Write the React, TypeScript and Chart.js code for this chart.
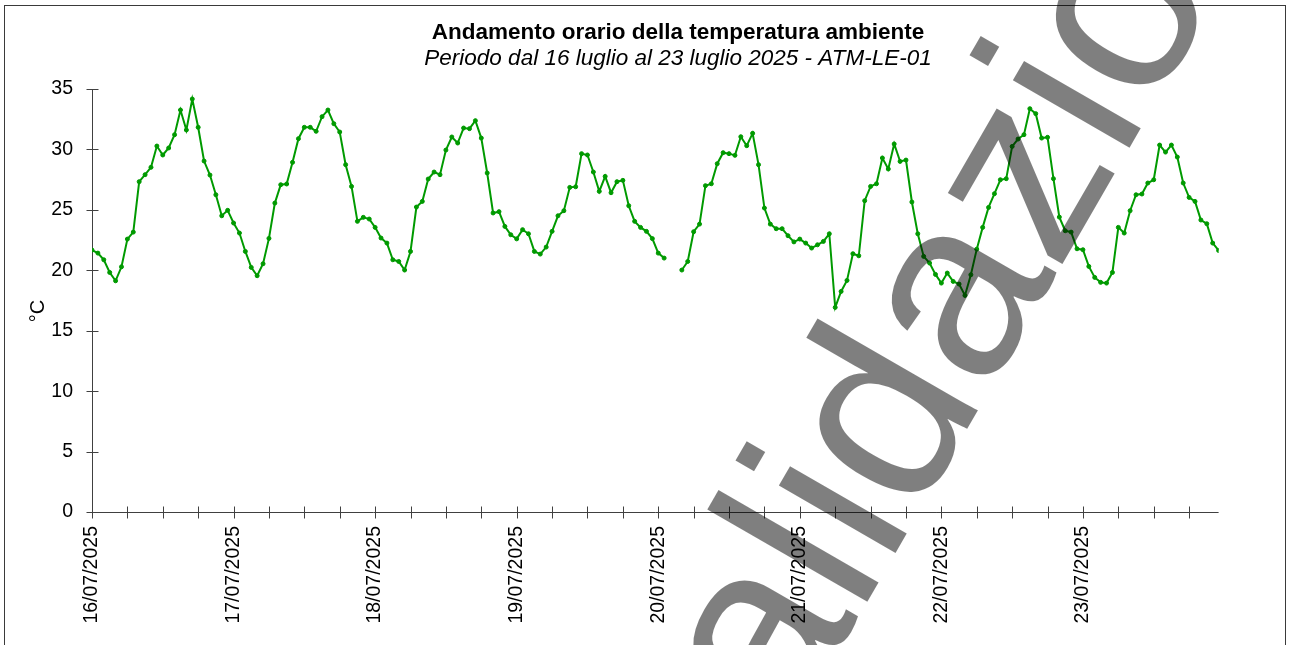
import React, { useEffect, useRef } from 'react';
import { Chart, registerables } from 'chart.js';

Chart.register(...registerables);

// Hourly temperatures (°C), one array per day, 24 values each (00:00 .. 23:00)
const day16 = [21.67, 21.42, 20.87, 19.82, 19.13, 20.29, 22.58, 23.16, 27.33, 27.91, 28.52, 30.28, 29.54, 30.12, 31.22, 33.26, 31.61, 34.17, 31.83, 29.04, 27.88, 26.25, 24.51, 24.96];
const day17 = [23.91, 23.08, 21.56, 20.24, 19.55, 20.54, 22.64, 25.56, 27.08, 27.14, 28.93, 30.89, 31.83, 31.83, 31.5, 32.71, 33.26, 32.13, 31.44, 28.74, 26.94, 24.05, 24.38, 24.24];
const day18 = [23.55, 22.67, 22.25, 20.87, 20.73, 20.02, 21.56, 25.23, 25.7, 27.55, 28.13, 27.91, 29.95, 31.03, 30.53, 31.77, 31.72, 32.38, 30.94, 28.05, 24.74, 24.85, 23.63, 22.94];
const day19 = [22.6, 23.36, 23.02, 21.56, 21.34, 21.92, 23.22, 24.51, 24.93, 26.86, 26.91, 29.65, 29.54, 28.13, 26.53, 27.77, 26.42, 27.33, 27.44, 25.34, 24.05, 23.55, 23.22, 22.62];
const day20 = [21.42, 21.01, null, null, 20.02, 20.73, 23.19, 23.82, 27.0, 27.16, 28.82, 29.73, 29.65, 29.51, 31.05, 30.31, 31.33, 28.74, 25.15, 23.82, 23.44, 23.44, 22.86, 22.35];
const day21 = [22.58, 22.25, 21.84, 22.11, 22.39, 23.02, 16.93, 18.25, 19.16, 21.37, 21.2, 25.76, 26.94, 27.16, 29.29, 28.38, 30.45, 29.01, 29.12, 25.65, 23.02, 21.15, 20.6, 19.66];
const day22 = [18.94, 19.77, 19.08, 18.86, 17.92, 19.63, 21.75, 23.55, 25.2, 26.34, 27.49, 27.58, 30.25, 30.86, 31.22, 33.37, 32.96, 30.94, 31.0, 27.58, 24.4, 23.27, 23.16, 21.78];
const day23 = [21.7, 20.32, 19.41, 19.0, 18.94, 19.82, 23.55, 23.08, 24.93, 26.25, 26.31, 27.22, 27.49, 30.36, 29.78, 30.36, 29.37, 27.22, 26.03, 25.7, 24.16, 23.85, 22.25, 21.64];

const dayLabels = ['16/07/2025', '17/07/2025', '18/07/2025', '19/07/2025', '20/07/2025', '21/07/2025', '22/07/2025', '23/07/2025'];

const titleText = 'Andamento orario della temperatura ambiente';
const subtitleText = 'Periodo dal 16 luglio al 23 luglio 2025 - ATM-LE-01';
const yAxisTitle = '°C';
const watermarkText = 'validazione';

const temperatures: (number | null)[] = [...day16, ...day17, ...day18, ...day19, ...day20, ...day21, ...day22, ...day23];

const FONT = '"Liberation Sans", Arial, sans-serif';
const GREEN = '#009a00';
const AXIS = '#404040';

const decorPlugin = {
  id: 'decor',
  beforeDraw(chart: any) {
    const ctx = chart.ctx;
    ctx.save();
    ctx.fillStyle = '#ffffff';
    ctx.fillRect(0, 0, chart.width, chart.height);
    ctx.strokeStyle = '#3a3a3a';
    ctx.lineWidth = 1;
    ctx.strokeRect(4.5, 5.5, 1281, 700);
    ctx.restore();
  },
  beforeDatasetsDraw(chart: any) {
    const ctx = chart.ctx;
    const xs = chart.scales.x;
    const ys = chart.scales.y;
    const area = chart.chartArea;
    ctx.save();
    ctx.strokeStyle = AXIS;
    ctx.lineWidth = 1;
    ctx.beginPath();
    const x0 = Math.round(area.left) + 0.5;
    ctx.moveTo(x0, area.top);
    ctx.lineTo(x0, area.bottom);
    const y0 = Math.round(area.bottom) + 0.5;
    ctx.moveTo(area.left, y0);
    ctx.lineTo(area.right, y0);
    ys.ticks.forEach((t: any) => {
      const py = Math.round(ys.getPixelForValue(t.value)) + 0.5;
      ctx.moveTo(x0 - 6, py);
      ctx.lineTo(x0 + 6, py);
    });
    xs.ticks.forEach((t: any) => {
      if (t.value % 6 !== 0) return;
      const px = Math.round(xs.getPixelForValue(t.value)) + 0.5;
      ctx.moveTo(px, y0 - 6);
      ctx.lineTo(px, y0 + 6);
    });
    ctx.stroke();
    ctx.restore();
  },
  afterDraw(chart: any) {
    const ctx = chart.ctx;
    ctx.save();
    ctx.fillStyle = '#000000';
    ctx.textAlign = 'center';
    ctx.textBaseline = 'middle';
    ctx.font = `bold 22.5px ${FONT}`;
    ctx.fillText(titleText, 678, 33);
    ctx.font = `italic 22.5px ${FONT}`;
    ctx.fillText(subtitleText, 678, 59);
    ctx.save();
    ctx.translate(38, 311);
    ctx.rotate(-Math.PI / 2);
    ctx.font = `20px ${FONT}`;
    ctx.fillText(yAxisTitle, 0, 0);
    ctx.restore();
    // watermark
    ctx.save();
    ctx.translate(724, 850);
    ctx.rotate((-60 * Math.PI) / 180);
    ctx.font = `255px ${FONT}`;
    ctx.textAlign = 'left';
    ctx.textBaseline = 'alphabetic';
    ctx.fillStyle = 'rgba(0,0,0,0.5)';
    ctx.fillText(watermarkText, 0, 0);
    ctx.restore();
    ctx.restore();
  },
};

export default function App() {
  const canvasRef = useRef<HTMLCanvasElement | null>(null);

  useEffect(() => {
    if (!canvasRef.current) return;
    const chart = new Chart(canvasRef.current, {
      type: 'line',
      data: {
        datasets: [
          {
            label: 'Temperatura',
            data: temperatures.map((t, i) => ({ x: i, y: t })) as any,
            borderColor: GREEN,
            backgroundColor: GREEN,
            borderWidth: 2,
            pointRadius: 2,
            pointHoverRadius: 2,
            pointBorderWidth: 1,
            pointBackgroundColor: GREEN,
            pointBorderColor: GREEN,
            spanGaps: false,
            tension: 0,
          },
        ],
      },
      options: {
        animation: false,
        responsive: false,
        maintainAspectRatio: false,
        layout: { padding: { left: 0, top: 89, right: 71.4, bottom: 0 } },
        plugins: {
          legend: { display: false },
          title: { display: false },
          tooltip: { enabled: false },
        },
        scales: {
          x: {
            type: 'linear',
            min: 0,
            max: 191,
            grid: { display: false },
            border: { display: false },
            ticks: {
              stepSize: 6,
              autoSkip: false,
              minRotation: 90,
              maxRotation: 90,
              padding: 6,
              color: '#000000',
              font: { family: FONT, size: 19.5 },
              callback: (v: any) => (Number(v) % 24 === 0 ? dayLabels[Number(v) / 24] ?? '' : ''),
            },
            afterFit: (scale: any) => {
              scale.height = 133;
            },
          },
          y: {
            type: 'linear',
            min: 0,
            max: 35,
            grid: { display: false },
            border: { display: false },
            ticks: {
              stepSize: 5,
              padding: 11,
              color: '#000000',
              font: { family: FONT, size: 19.5 },
            },
            afterFit: (scale: any) => {
              scale.width = 92;
            },
          },
        },
      },
      plugins: [decorPlugin],
    });
    return () => chart.destroy();
  }, []);

  return (
    <div style={{ position: 'fixed', left: 0, top: 0, width: 1290, height: 645, overflow: 'hidden', background: '#fff' }}>
      <canvas ref={canvasRef} width={1290} height={645} style={{ display: 'block' }} />
    </div>
  );
}
